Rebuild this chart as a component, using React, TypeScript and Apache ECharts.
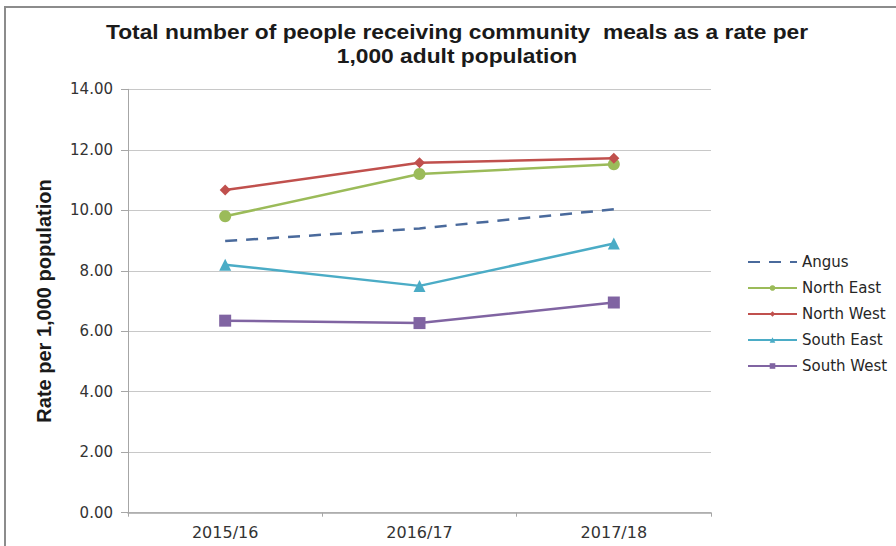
import React, { useEffect, useRef } from "react";
import * as echarts from "echarts";

const categories = ["2015/16", "2016/17", "2017/18"];
const angus = [8.98, 9.4, 10.03];
const northEast = [9.8, 11.2, 11.52];
const northWest = [10.67, 11.57, 11.72];
const southEast = [8.2, 7.5, 8.9];
const southWest = [6.35, 6.27, 6.95];

const titleLine1 = "Total number of people receiving community  meals as a rate per";
const titleLine2 = "1,000 adult population";
const yAxisName = "Rate per 1,000 population";

const FONT = "Liberation Sans, Arial, sans-serif";
const WIDE = "DejaVu Sans, Verdana, sans-serif";

export default function App() {
  const ref = useRef<HTMLDivElement>(null);
  useEffect(() => {
    if (!ref.current) return;
    const chart = echarts.init(ref.current, undefined, { renderer: "svg" });
    const lineSeries = (name: string, data: number[], color: string, symbol: string, size: number, dashed = false) => ({
      name,
      type: "line",
      data,
      symbol: dashed ? "none" : symbol,
      symbolSize: size,
      showSymbol: !dashed,
      itemStyle: { color },
      lineStyle: { color, width: 2.5, type: dashed ? [12, 9] : "solid" },
    });
    chart.setOption({
      animation: false,
      backgroundColor: "#ffffff",
      graphic: [
        {
          type: "rect",
          shape: { x: 5, y: 7, width: 960, height: 600 },
          style: { fill: "none", stroke: "#8c8c8c", lineWidth: 2 },
          silent: true,
        },
        {
          type: "text",
          x: 457,
          y: 32,
          scaleX: 1.085,
          style: {
            text: titleLine1,
            textAlign: "center",
            textVerticalAlign: "middle",
            font: `bold 21px ${FONT}`,
            fill: "#1a1a1a",
          },
        },
        {
          type: "text",
          x: 457,
          y: 56,
          scaleX: 1.085,
          style: {
            text: titleLine2,
            textAlign: "center",
            textVerticalAlign: "middle",
            font: `bold 21px ${FONT}`,
            fill: "#1a1a1a",
          },
        },
        {
          type: "text",
          x: 44,
          y: 301,
          rotation: Math.PI / 2,
          style: {
            text: yAxisName,
            textAlign: "center",
            textVerticalAlign: "middle",
            font: `bold 20px ${FONT}`,
            fill: "#1a1a1a",
          },
        },
      ],
      grid: { left: 128, right: 185, top: 89.3, bottom: 33.3, containLabel: false },
      legend: {
        orient: "vertical",
        left: 742,
        top: 248,
        itemWidth: 49,
        itemHeight: 7,
        itemGap: 8,
        textStyle: { fontFamily: WIDE, fontSize: 15, color: "#262626", lineHeight: 18 },
        data: [
          { name: "Angus", itemStyle: { opacity: 0 } },
          "North East",
          "North West",
          "South East",
          "South West",
        ],
      },
      xAxis: {
        type: "category",
        data: categories,
        boundaryGap: true,
        axisLine: { lineStyle: { color: "#a6a6a6", width: 1.5 } },
        axisTick: { show: true, length: 4, lineStyle: { color: "#a6a6a6" } },
        axisLabel: { fontFamily: WIDE, fontSize: 16, color: "#333333", margin: 12 },
      },
      yAxis: {
        type: "value",
        min: 0,
        max: 14,
        interval: 2,
        axisLine: { show: true, lineStyle: { color: "#a6a6a6" } },
        axisTick: { show: true, length: 7, lineStyle: { color: "#a6a6a6" } },
        splitLine: { lineStyle: { color: "#c8c8c8", width: 1 } },
        axisLabel: {
          fontFamily: WIDE,
          fontSize: 15,
          color: "#333333",
          margin: 15,
          formatter: (v: number) => v.toFixed(2),
        },
      },
      series: [
        lineSeries("Angus", angus, "#4a6a9c", "none", 0, true),
        lineSeries("North East", northEast, "#9bbb59", "circle", 12),
        lineSeries("North West", northWest, "#c0504d", "diamond", 11),
        lineSeries("South East", southEast, "#4bacc6", "triangle", 12),
        lineSeries("South West", southWest, "#8064a2", "rect", 12),
      ],
    });
    return () => chart.dispose();
  }, []);
  return (
    <div
      ref={ref}
      style={{ position: "fixed", left: 0, top: 0, width: 896, height: 546, background: "#fff" }}
    />
  );
}
